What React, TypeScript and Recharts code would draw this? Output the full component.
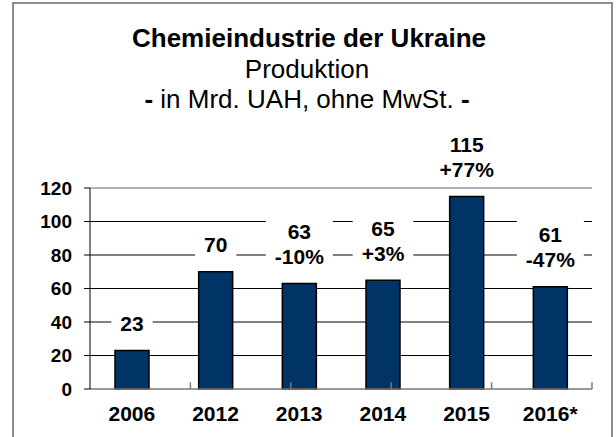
import React from 'react'
import {
  BarChart, Bar, XAxis, YAxis, CartesianGrid, LabelList, ReferenceLine,
} from 'recharts'

const years = ['2006', '2012', '2013', '2014', '2015', '2016*']
const production = [23, 70, 63, 65, 115, 61]
const changes = ['', '', '-10%', '+3%', '+77%', '-47%']
const yTicks = [0, 20, 40, 60, 80, 100, 120]
const gridValues = [20, 40, 60, 80, 100]

const data = years.map((year, i) => ({ year, value: production[i] }))
const edges = years.slice(1).map((_, i) => i + 1)

const FONT = '"Liberation Sans", Arial, sans-serif'

// rough bold Arial widths in em
const charWidth = (c: string) => {
  if (c === '%') return 0.889
  if (c === '+') return 0.584
  if (c === '-') return 0.333
  return 0.556
}

function BarLabel(props: any) {
  const vb = props.viewBox || {}
  const x = props.x ?? vb.x
  const y = props.y ?? vb.y
  const width = props.width ?? vb.width
  const index = props.index
  const lines = [String(props.value), changes[index]].filter(Boolean)
  const fontSize = 21
  const lineH = 25
  const cx = x + width / 2
  const lastCenter = y - 27
  const firstCenter = lastCenter - (lines.length - 1) * lineH
  const textW = Math.max(...lines.map((l) => l.split('').reduce((s, c) => s + charWidth(c), 0) * fontSize))
  const boxW = textW + 18
  const boxTop = firstCenter - 14
  const boxH = (lines.length - 1) * lineH + 30
  return (
    <g>
      <rect x={cx - boxW / 2} y={boxTop} width={boxW} height={boxH} fill="#fff" />
      {lines.map((l, i) => (
        <text
          key={i}
          x={cx}
          y={firstCenter + i * lineH}
          dy="0.36em"
          textAnchor="middle"
          fontSize={fontSize}
          fontWeight="bold"
          fontFamily={FONT}
          fill="#000"
        >
          {l}
        </text>
      ))}
    </g>
  )
}

export default function App() {
  return (
    <div style={{ position: 'absolute', left: 0, top: 0, width: 616, height: 437, overflow: 'hidden', background: '#fff' }}>
      <div
        style={{
          position: 'absolute', left: 12, top: 2, width: 597, height: 460,
          border: '2px solid #8c8c8c', borderBottom: 'none',
        }}
      />
      <BarChart
        width={616}
        height={437}
        data={data}
        margin={{ top: 188, right: 24, left: 30, bottom: 18 }}
        style={{ position: 'absolute', left: 0, top: 0 }}
      >
        <CartesianGrid vertical={false} horizontalValues={gridValues} stroke="#000" strokeWidth={1} />
        <XAxis
          dataKey="year"
          height={30}
          tickLine={false}
          tickSize={0}
          tickMargin={17}
          axisLine={{ stroke: '#777', strokeWidth: 1.5 }}
          tick={{ fill: '#000', fontSize: 21, fontWeight: 'bold', fontFamily: FONT }}
          interval={0}
        />
        <XAxis xAxisId="edge" type="number" domain={[0, years.length]} allowDataOverflow hide />
        <YAxis
          width={60}
          domain={[0, 120]}
          ticks={yTicks}
          interval={0}
          tickSize={6}
          tickMargin={12}
          axisLine={{ stroke: '#000', strokeWidth: 1 }}
          tickLine={{ stroke: '#000' }}
          tick={{ fill: '#000', fontSize: 19, fontWeight: 'bold', fontFamily: FONT }}
        />
        <ReferenceLine y={120} stroke="#999" strokeWidth={1.5} ifOverflow="visible" />
        <ReferenceLine xAxisId="edge" x={years.length} stroke="#999" strokeWidth={1.5} ifOverflow="visible" />
        {edges.map((e) => (
          <ReferenceLine
            key={e}
            xAxisId="edge"
            segment={[{ x: e, y: 0 }, { x: e, y: 4 }]}
            stroke="#777"
            strokeWidth={1.5}
            ifOverflow="visible"
          />
        ))}
        <Bar dataKey="value" fill="#003366" stroke="#000" strokeWidth={1.5} barSize={34} isAnimationActive={false}>
          <LabelList dataKey="value" content={(p: any) => <BarLabel {...p} />} />
        </Bar>
      </BarChart>
      <svg width={616} height={130} style={{ position: 'absolute', left: 0, top: 0, pointerEvents: 'none' }}>
        <text x={309} y={47} textAnchor="middle" fontSize={26} fontWeight="bold" fontFamily={FONT} fill="#000">
          Chemieindustrie der Ukraine
        </text>
        <text x={307} y={78} textAnchor="middle" fontSize={26} fontFamily={FONT} fill="#000">
          Produktion
        </text>
        <text x={307} y={108} textAnchor="middle" fontSize={26} fontFamily={FONT} fill="#000">
          <tspan fontWeight="bold">-</tspan> in Mrd. UAH, ohne MwSt. <tspan fontWeight="bold">-</tspan>
        </text>
      </svg>
    </div>
  )
}
